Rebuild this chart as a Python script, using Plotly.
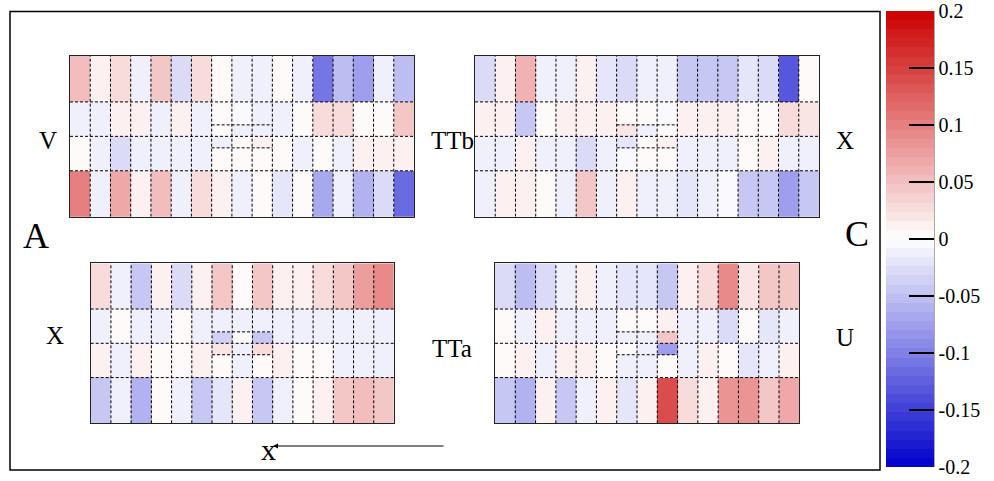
import plotly.graph_objects as go

W, H = 994, 481

# ---------------- data ----------------
# Each panel: rows listed top -> bottom. None = central split sector (drawn from *_c arrays)
# TTb V (top-left), 17 columns
tbv_r4 = [0.05, 0.01, 0.025, -0.01, 0.045, -0.03, 0.025, 0, -0.01, -0.01, 0, -0.01, -0.11, -0.055, -0.08, -0.015, -0.055]
tbv_r3 = [-0.015, -0.01, 0.01, 0.01, -0.015, 0.01, -0.01, None, None, None, -0.01, 0, 0.025, 0.025, 0, 0, 0.045]
tbv_r2 = [0, -0.01, -0.025, -0.015, -0.01, -0.015, -0.01, None, None, None, 0, -0.01, 0, -0.015, 0.012, 0.01, 0.01]
tbv_r1 = [0.1, -0.01, 0.065, 0.01, 0.05, -0.015, 0.03, 0.015, -0.015, 0, -0.02, 0, -0.065, -0.01, -0.06, -0.03, -0.12]
tbv_c = [[0, -0.005, -0.01], [0, -0.01, -0.015], [-0.015, 0, 0.01], [0, 0, 0]]

# TTb X (top-right), 17 columns
tbx_r4 = [-0.03, 0.01, 0.06, -0.01, -0.015, 0.012, -0.02, -0.025, -0.01, -0.01, -0.04, -0.04, -0.04, -0.02, -0.03, -0.13, 0]
tbx_r3 = [0.01, 0.01, -0.04, 0, 0.01, 0.01, 0.01, None, None, None, 0.01, 0.01, 0.015, 0, 0, 0.025, 0.018]
tbx_r2 = [-0.01, -0.015, 0.015, -0.015, -0.01, -0.03, -0.015, None, None, None, -0.01, -0.01, -0.01, 0, 0.01, -0.01, -0.01]
tbx_r1 = [-0.01, 0.01, 0.015, 0, -0.01, 0.045, -0.015, 0.015, -0.01, -0.015, -0.02, -0.01, -0.005, -0.04, -0.04, -0.08, -0.04]
tbx_c = [[0, 0, -0.005], [0.02, -0.01, 0], [-0.02, 0, 0.01], [-0.005, 0, 0]]

# TTa X (bottom-left), 15 columns
tax_r4 = [0.025, -0.01, -0.04, 0.01, -0.03, 0.01, 0.045, 0, 0.045, 0.01, 0.012, 0.025, 0.045, 0.075, 0.09]
tax_r3 = [-0.01, 0, -0.01, -0.015, 0, -0.015, None, None, None, -0.015, -0.01, -0.015, -0.015, -0.01, -0.015]
tax_r2 = [0.01, -0.015, 0.01, 0, 0, 0.012, None, None, None, 0.01, 0, 0, -0.01, -0.01, -0.01]
tax_r1 = [-0.04, -0.01, -0.06, 0, -0.015, -0.04, -0.02, 0.01, -0.04, -0.01, 0, 0.01, 0.04, 0.055, 0.04]
tax_c = [[-0.01, -0.01, -0.015], [-0.035, 0, -0.04], [0.018, -0.01, 0.025], [0, -0.01, 0]]

# TTa U (bottom-right), 15 columns
tau_r4 = [-0.03, -0.055, -0.03, -0.015, 0.01, -0.01, -0.02, -0.02, -0.045, 0.01, 0.03, 0.095, 0.02, 0.04, 0.04]
tau_r3 = [0, -0.01, 0.01, -0.01, -0.015, -0.01, None, None, None, -0.01, -0.015, -0.03, 0, -0.02, -0.015]
tau_r2 = [0, 0.01, -0.015, 0.012, 0.01, 0, None, None, None, -0.01, 0.01, 0, -0.02, -0.01, 0.01]
tau_r1 = [-0.04, -0.06, 0.01, -0.045, -0.015, 0.01, -0.02, 0.01, 0.14, 0.03, 0.01, 0.08, 0.08, 0.045, 0.065]
tau_c = [[0, 0, 0.015], [-0.01, -0.01, 0.045], [0, -0.01, -0.08], [-0.01, -0.01, 0]]

row_edges = [0, 4, 7, 10, 14]          # sector heights in sensor units (bottom -> top)
center_row_edges = [4, 6, 7, 8, 10]    # split sectors around the beam pipe

cb_tickvals = [-0.2, -0.15, -0.1, -0.05, 0, 0.05, 0.1, 0.15, 0.2]
cb_ticktext = ["-0.2", "-0.15", "-0.1", "-0.05", "0", "0.05", "0.1", "0.15", "0.2"]

# ---------------- styling ----------------
FONT = "Liberation Serif, Times New Roman, serif"

def band_color(f):
    if f >= 0:
        return "rgb(%d,%d,%d)" % (round(255 - 51 * f), round(255 - 255 * f), round(255 - 255 * f))
    g = -f
    return "rgb(%d,%d,%d)" % (round(255 - 255 * g), round(255 - 255 * g), round(255 - 51 * g))

NB = 50
colorscale = []
for i in range(NB):
    lo, hi = i / NB, (i + 1) / NB
    c = band_color((lo + hi) - 1)
    colorscale.append([lo, c])
    colorscale.append([hi, c])

panels = [
    # rows, center, pixel box (x0, x1, ytop, ybottom)
    ([tbv_r4, tbv_r3, tbv_r2, tbv_r1], tbv_c, (70, 414, 56, 216.7)),
    ([tbx_r4, tbx_r3, tbx_r2, tbx_r1], tbx_c, (475, 819, 56, 216.7)),
    ([tax_r4, tax_r3, tax_r2, tax_r1], tax_c, (90.7, 394, 263.3, 423.3)),
    ([tau_r4, tau_r3, tau_r2, tau_r1], tau_c, (495, 799.3, 263.3, 423.3)),
]

fig = go.Figure()
layout_axes = {}
for k, (rows, center, box) in enumerate(panels):
    n = len(rows[0])
    c0 = (n - 3) // 2
    sfx = "" if k == 0 else str(k + 1)
    xa, ya = "x" + sfx, "y" + sfx
    xedges = list(range(n + 1))
    fig.add_trace(go.Heatmap(
        z=rows[::-1], x=xedges, y=row_edges, coloraxis="coloraxis",
        xaxis=xa, yaxis=ya, hoverongaps=False))
    fig.add_trace(go.Heatmap(
        z=center[::-1], x=list(range(c0, c0 + 4)), y=center_row_edges,
        coloraxis="coloraxis", xaxis=xa, yaxis=ya))
    # dashed sector boundaries
    lx, ly = [], []
    for xv in xedges[1:-1]:
        lx += [xv, xv, None]
        ly += [row_edges[0], row_edges[-1], None]
    for yv in row_edges[1:-1]:
        lx += [xedges[0], xedges[-1], None]
        ly += [yv, yv, None]
    for yv in (center_row_edges[1], center_row_edges[3]):
        lx += [c0, c0 + 3, None]
        ly += [yv, yv, None]
    fig.add_trace(go.Scatter(x=lx, y=ly, mode="lines", xaxis=xa, yaxis=ya,
                             line=dict(color="black", width=1, dash="3px,2px"),
                             hoverinfo="skip", showlegend=False))
    x0, x1, yt, yb = box
    common = dict(showgrid=False, zeroline=False, showticklabels=False, ticks="",
                  showline=True, mirror=True, linecolor="#222", linewidth=1,
                  layer="above traces", fixedrange=True)
    layout_axes["xaxis" + sfx] = dict(domain=[x0 / W, x1 / W], range=[0, n],
                                      anchor=ya, **common)
    layout_axes["yaxis" + sfx] = dict(domain=[1 - yb / H, 1 - yt / H], range=[0, 14],
                                      anchor=xa, **common)

# colorbar geometry (pixels)
cb_left, cb_right, cb_top, cb_bot = 886, 934, 11, 467

fig.update_layout(
    width=W, height=H, margin=dict(l=0, r=0, t=0, b=0, autoexpand=False),
    paper_bgcolor="white", plot_bgcolor="white", showlegend=False,
    font=dict(family=FONT, color="black"),
    coloraxis=dict(
        colorscale=colorscale, cmin=-0.2, cmax=0.2,
        colorbar=dict(
            x=cb_left / W, xanchor="left", thickness=cb_right - cb_left, thicknessmode="pixels",
            y=1 - (cb_top + cb_bot) / 2 / H, yanchor="middle",
            len=cb_bot - cb_top, lenmode="pixels", xpad=0, ypad=0,
            outlinewidth=0, ticks="inside", ticklen=25, tickwidth=1.5, tickcolor="black",
            tickvals=cb_tickvals, ticktext=cb_ticktext,
            tickfont=dict(family=FONT, size=20, color="black"),
        ),
    ),
    **layout_axes,
)

# frame and colorbar axis line
fig.add_shape(type="rect", xref="paper", yref="paper",
              x0=10 / W, x1=880 / W, y0=1 - 470 / H, y1=1 - 11.5 / H,
              line=dict(color="black", width=1.5), layer="below")
fig.add_shape(type="line", xref="paper", yref="paper",
              x0=cb_right / W, x1=cb_right / W, y0=1 - cb_bot / H, y1=1 - cb_top / H,
              line=dict(color="#555", width=1))

labels = [
    ("V", 48, 140, 25), ("TTb", 452, 140, 25), ("X", 845, 140, 25),
    ("A", 36, 236, 36), ("C", 857, 234, 36),
    ("X", 55, 335, 25), ("TTa", 452, 348, 25), ("U", 845, 337, 25),
    ("x", 268, 449, 30),
]
for txt, px, py, sz in labels:
    fig.add_annotation(text=txt, x=px / W, y=1 - py / H, xref="paper", yref="paper",
                       showarrow=False, xanchor="center", yanchor="middle",
                       font=dict(family=FONT, size=sz, color="black"))

# direction arrow
fig.add_annotation(x=273 / W, y=1 - 446 / H, xref="paper", yref="paper",
                   ax=445 - 273, ay=0, axref="pixel", ayref="pixel", text="",
                   showarrow=True, arrowhead=2, arrowsize=1, arrowwidth=1, arrowcolor="black",
                   startarrowhead=0)

fig.write_html("out.html", config={"displayModeBar": False},
               post_script="document.body.style.margin='0';")
